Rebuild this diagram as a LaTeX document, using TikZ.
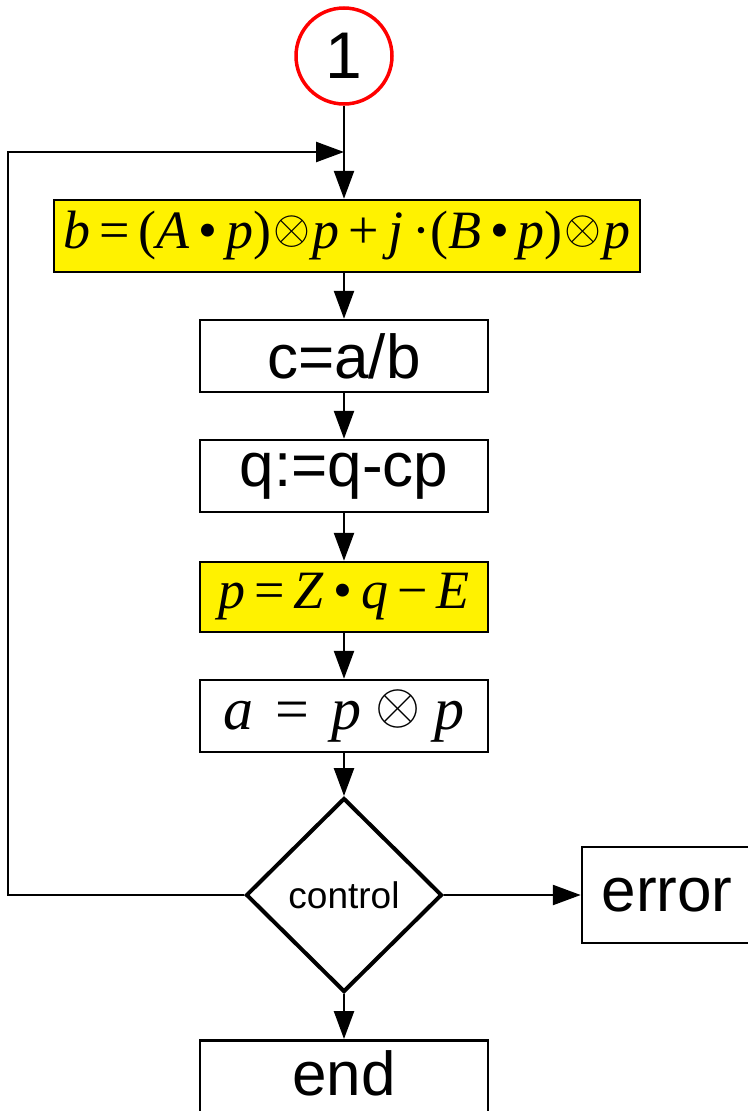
\documentclass[tikz,border=0pt]{standalone}
\usepackage{fontspec}
\usepackage{graphicx}
\setmainfont{Liberation Sans}
\newfontfamily\tms{Liberation Serif}
\usetikzlibrary{shapes.geometric,arrows.meta}
\newcommand{\ox}[2][4.75]{\raisebox{#2}{\scalebox{#1}{\fontsize{10}{12}\selectfont$\otimes$}}}
\begin{document}
\begin{tikzpicture}[x=1pt,y=-1pt,
  box/.style={draw,line width=2.5pt,minimum width=288pt,minimum height=72pt,inner sep=0pt,font=\fontsize{62}{62}\selectfont},
  ybox/.style={box,fill=yellow},
  arr/.style={-{Triangle[length=28pt,width=20pt]},line width=2.5pt},
  mth/.style={font=\tms\fontsize{60}{60}\selectfont}]
\useasboundingbox (0,0) rectangle (747,1111);
\fill[white] (0,0) rectangle (747,1111);
\node[draw=red,line width=3.5pt,circle,minimum size=96pt,inner sep=0pt,font=\fontsize{66}{66}\selectfont] (start) at (344,56) {1};
\node[ybox,minimum width=586pt,font=\tms\fontsize{54}{54}\selectfont] (b1) at (347,236) {\textit{b}\,=\,(\textit{A}\,•\,\textit{p})\kern2pt\ox{5pt}\kern2pt\textit{p}\,+\,\textit{j}\,·(\textit{B}\,•\,\textit{p})\kern2pt\ox{5pt}\kern2pt\textit{p}};
\node[box] (c) at (344,356) {c=a/b};
\node[box] (q) at (344,476) {q:=q-cp};
\node[ybox,minimum height=70pt,font=\tms\fontsize{54}{54}\selectfont] (p) at (344,597) {\textit{p}\,=\,\textit{Z}\,•\,\textit{q}\,−\,\textit{E}};
\node[box,mth] (a) at (344,716) {\textit{a}\hspace{22pt}=\hspace{22pt}\textit{p}\hspace{14pt}\ox[5.8]{5.5pt}\hspace{14pt}\textit{p}};
\node[diamond,draw,line width=4pt,minimum width=196pt,minimum height=194pt,inner sep=0pt,font=\fontsize{37}{37}\selectfont] (ctrl) at (344,895) {control};
\node[box,minimum width=170pt,minimum height=96pt] (err) at (667,895) {error};
\node[box,minimum height=0pt,inner ysep=10pt,text depth=60pt,anchor=north] (end) at (344,1039) {end};
\coordinate (lt) at (8,152);
\coordinate (j) at (start.south |- lt);
\draw[arr] (start.south) -- (start.south |- b1.north);
\draw[arr] (c.north |- b1.south) -- (c.north);
\draw[arr] (c.south) -- (q.north);
\draw[arr] (q.south) -- (p.north);
\draw[arr] (p.south) -- (a.north);
\draw[arr] (a.south) -- (ctrl.north);
\draw[arr] (ctrl.south) -- (end.north);
\draw[arr] (ctrl.east) -- (err.west);
\draw[arr] (ctrl.west) -| (lt) -- (j);
\end{tikzpicture}
\end{document}
